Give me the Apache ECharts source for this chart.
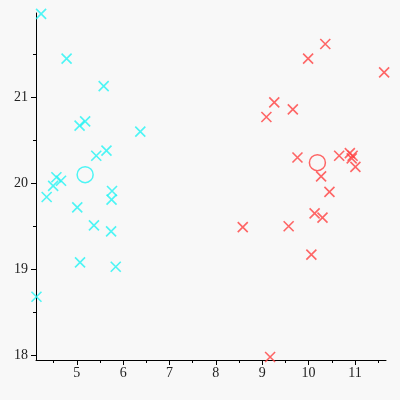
<!DOCTYPE html>
<html><head><meta charset="utf-8">
<script src="https://cdn.jsdelivr.net/npm/echarts@6/dist/echarts.min.js"></script>
<style>html,body{margin:0;padding:0;background:#f8f8f8}#c{width:400px;height:400px}</style>
</head><body><div id="c"></div>
<script>
const cyanX = [4.23,4.78,5.58,5.06,5.18,6.37,5.42,5.64,4.56,4.66,4.49,5.76,4.35,5.75,5.01,5.37,5.74,5.07,5.84,4.13];
const cyanY = [21.97,21.45,21.13,20.67,20.72,20.60,20.32,20.38,20.07,20.03,19.97,19.91,19.84,19.81,19.72,19.51,19.44,19.08,19.03,18.68];
const redX = [10.36,9.99,11.63,9.26,9.66,9.09,9.76,10.66,10.89,10.95,10.93,11.01,10.27,10.45,8.58,9.57,10.13,10.30,10.06,9.17];
const redY = [21.62,21.45,21.29,20.94,20.86,20.77,20.30,20.32,20.35,20.32,20.29,20.19,20.08,19.90,19.49,19.50,19.65,19.60,19.17,17.98];
const cyanCenter = [5.18, 20.10];
const redCenter = [10.19, 20.24];
const xMajor = [5,6,7,8,9,10,11];
const xMinor = [4.5,5.5,6.5,7.5,8.5,9.5,10.5,11.5];
const yMajor = [18,19,20,21];
const yMinor = [18.5,19.5,20.5,21.5];
const xRange = [4.12, 11.67];
const yRange = [17.945, 21.98];

const font = {fontFamily:'Liberation Serif', fontSize:14, color:'#222'};
const cross = 'path://M0,0L10,10M10,0L0,10';
function pts(xs, ys){ return xs.map((x,i)=>[x, ys[i]]); }

const chart = echarts.init(document.getElementById('c'));
chart.setOption({
  backgroundColor:'#f8f8f8',
  animation:false,
  grid:{left:36,right:14,top:13,bottom:40},
  xAxis:[
    {type:'value',min:xRange[0],max:xRange[1],
     axisLine:{show:true,lineStyle:{color:'#000',width:1}},
     axisTick:{show:true,customValues:xMajor,length:5,lineStyle:{color:'#000'}},
     axisLabel:Object.assign({customValues:xMajor,margin:6},font),
     splitLine:{show:false}},
    {type:'value',min:xRange[0],max:xRange[1],position:'bottom',
     axisLine:{show:false},
     axisTick:{show:true,customValues:xMinor,length:3,lineStyle:{color:'#000'}},
     axisLabel:{show:false},splitLine:{show:false}}
  ],
  yAxis:[
    {type:'value',min:yRange[0],max:yRange[1],
     axisLine:{show:true,lineStyle:{color:'#000',width:1}},
     axisTick:{show:true,customValues:yMajor,length:5,lineStyle:{color:'#000'}},
     axisLabel:Object.assign({customValues:yMajor,margin:8},font),
     splitLine:{show:false}},
    {type:'value',min:yRange[0],max:yRange[1],position:'left',
     axisLine:{show:false},
     axisTick:{show:true,customValues:yMinor,length:3,lineStyle:{color:'#000'}},
     axisLabel:{show:false},splitLine:{show:false}}
  ],
  series:[
    {type:'scatter',data:pts(cyanX,cyanY),symbol:cross,symbolSize:10,clip:false,
     itemStyle:{color:'transparent',borderColor:'#22f4f4',borderWidth:1.6}},
    {type:'scatter',data:pts(redX,redY),symbol:cross,symbolSize:10,clip:false,
     itemStyle:{color:'transparent',borderColor:'#ff4040',borderWidth:1.6}},
    {type:'scatter',data:[cyanCenter],symbol:'circle',symbolSize:16,clip:false,
     itemStyle:{color:'transparent',borderColor:'#22f4f4',borderWidth:1.5}},
    {type:'scatter',data:[redCenter],symbol:'circle',symbolSize:16,clip:false,
     itemStyle:{color:'transparent',borderColor:'#ff4040',borderWidth:1.5}}
  ]
});
</script></body></html>
